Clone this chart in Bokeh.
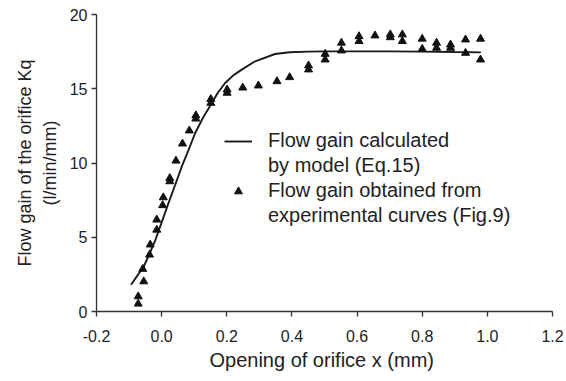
from bokeh.plotting import figure
from bokeh.models import (Range1d, FixedTicker, Legend, LegendItem, ColumnDataSource,
                          LinearAxis)
from bokeh.embed import file_html
from bokeh.resources import INLINE

# ---- data ----
exp_x = [-0.072, -0.072, -0.055, -0.058, -0.037, -0.035, -0.015, -0.015, 0.003, 0.005,
         0.025, 0.025, 0.044, 0.064, 0.085, 0.105, 0.105, 0.151, 0.151, 0.201, 0.201,
         0.249, 0.297, 0.354, 0.393, 0.451, 0.451, 0.502, 0.502, 0.552, 0.552, 0.606,
         0.606, 0.655, 0.702, 0.702, 0.739, 0.739, 0.800, 0.800, 0.844, 0.844, 0.887,
         0.887, 0.933, 0.933, 0.979, 0.979]
exp_y = [0.52, 1.01, 2.02, 2.86, 3.82, 4.50, 5.50, 6.18, 7.15, 7.68,
         8.76, 8.98, 10.15, 11.30, 12.18, 12.98, 13.20, 14.04, 14.30, 14.72, 14.94,
         15.07, 15.21, 15.50, 15.77, 16.29, 16.56, 16.96, 17.34, 17.57, 18.09, 18.20,
         18.53, 18.58, 18.46, 18.65, 18.20, 18.65, 17.68, 18.36, 17.75, 18.09, 17.75,
         17.97, 17.41, 18.31, 16.96, 18.36]

model_x = [-0.094, -0.075, -0.055, -0.035, -0.019, 0.0, 0.021, 0.042, 0.062, 0.083,
           0.103, 0.127, 0.151, 0.173, 0.195, 0.22, 0.246, 0.287, 0.348, 0.393,
           0.45, 0.5, 0.6, 0.7, 0.8, 0.9, 0.98]
model_y = [1.80, 2.40, 3.03, 4.00, 4.83, 6.00, 7.30, 8.55, 9.77, 10.90,
           12.02, 13.05, 13.93, 14.75, 15.39, 15.90, 16.29, 16.85, 17.34, 17.46,
           17.50, 17.52, 17.52, 17.52, 17.50, 17.47, 17.45]

x_ticks = [-0.2, 0.0, 0.2, 0.4, 0.6, 0.8, 1.0, 1.2]
x_tick_labels = ["-0.2", "0.0", "0.2", "0.4", "0.6", "0.8", "1.0", "1.2"]
y_ticks = [0, 5, 10, 15, 20]
y_tick_labels = ["0", "5", "10", "15", "20"]

legend_line1 = ["Flow gain calculated", "by model (Eq.15)"]
legend_line2 = ["Flow gain obtained from", "experimental curves (Fig.9)"]
x_title = "Opening of orifice x  (mm)"
y_title = ["Flow gain of the orifice Kq", "(l/min/mm)"]

FONT = "Liberation Sans"
TXT = "#222222"

p = figure(width=564, height=379, output_backend="svg", toolbar_location=None,
           x_range=Range1d(-0.2, 1.2), y_range=Range1d(0, 20),
           min_border_left=96, min_border_top=14, min_border_right=12, min_border_bottom=68)
p.outline_line_color = None
p.grid.visible = False
p.background_fill_color = "white"
p.border_fill_color = "white"

for ax in (p.xaxis[0], p.yaxis[0]):
    ax.axis_line_color = "#333333"
    ax.axis_line_width = 1.3
    ax.major_tick_line_color = "#333333"
    ax.major_tick_line_width = 1.3
    ax.major_tick_out = 5
    ax.major_tick_in = 0
    ax.minor_tick_line_color = None
    ax.major_label_text_font = FONT
    ax.major_label_text_font_size = "16px"
    ax.major_label_text_color = TXT
    ax.axis_label_text_font = FONT
    ax.axis_label_text_font_style = "normal"
    ax.axis_label_text_color = TXT

xa = p.xaxis[0]
xa.ticker = FixedTicker(ticks=x_ticks)
xa.major_label_overrides = {t: l for t, l in zip(x_ticks, x_tick_labels)}
xa.major_label_standoff = 13
xa.axis_label = x_title
xa.axis_label_text_font_size = "20px"
xa.axis_label_standoff = 4

ya = p.yaxis[0]
ya.ticker = FixedTicker(ticks=y_ticks)
ya.major_label_overrides = {t: l for t, l in zip(y_ticks, y_tick_labels)}
ya.major_label_standoff = 4
ya.axis_label = y_title[1]
ya.axis_label_text_font_size = "18px"
ya.axis_label_standoff = 7

# outer (tick-less) axis carrying the first line of the y title
ya2 = LinearAxis(ticker=FixedTicker(ticks=[]), axis_line_color=None,
                 major_tick_line_color=None, minor_tick_line_color=None,
                 major_label_text_font_size="0px", axis_label=y_title[0],
                 axis_label_text_font=FONT, axis_label_text_font_size="18px",
                 axis_label_text_font_style="normal", axis_label_text_color=TXT,
                 axis_label_standoff=2)
p.add_layout(ya2, "left")

line_r = p.line(model_x, model_y, line_color="#1a1a1a", line_width=1.9)
tri_r = p.scatter(exp_x, exp_y, marker="triangle", size=8, fill_color="#111111",
                  line_color="#111111")

blank = ColumnDataSource(data=dict(x=[], y=[]))
blank_r1 = p.line("x", "y", source=blank, line_alpha=0)
blank_r2 = p.line("x", "y", source=blank, line_alpha=0)

legend = Legend(items=[
    LegendItem(label=legend_line1[0], renderers=[line_r]),
    LegendItem(label=legend_line1[1], renderers=[blank_r1]),
    LegendItem(label=legend_line2[0], renderers=[tri_r]),
    LegendItem(label=legend_line2[1], renderers=[blank_r2]),
], location=(128, 84))
legend.background_fill_alpha = 0
legend.border_line_color = None
legend.padding = 0
legend.margin = 0
legend.spacing = 2
legend.glyph_width = 28
legend.glyph_height = 20
legend.label_height = 20
legend.label_standoff = 16
legend.label_text_font = FONT
legend.label_text_font_size = "20px"
legend.label_text_color = TXT
p.add_layout(legend, "center")

open("out.html", "w").write(file_html(p, INLINE))
